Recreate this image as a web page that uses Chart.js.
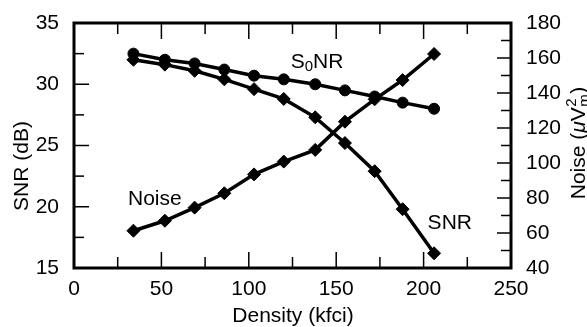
<!DOCTYPE html>
<html>
<head>
<meta charset="utf-8">
<script src="https://cdn.jsdelivr.net/npm/chart.js@4.4.1/dist/chart.umd.min.js"></script>
<style>
  html, body { margin: 0; padding: 0; background: #fff; }
  #wrap { width: 587px; height: 327px; }
</style>
</head>
<body>
<div id="wrap"><canvas id="snrChart" width="587" height="327"></canvas></div>
<script>
// values
var density = [34, 52, 69, 86, 103, 120, 138, 155, 172, 188, 206];
var s0nr = [32.5, 32.0, 31.7, 31.2, 30.7, 30.4, 30.0, 29.5, 29.0, 28.5, 28.0];
var snr = [32.0, 31.6, 31.1, 30.4, 29.6, 28.8, 27.3, 25.2, 22.9, 19.8, 16.2];
var noise = [61.3, 67.0, 74.5, 82.7, 93.5, 100.8, 107.5, 123.6, 136.4, 147.4, 162.3];

var xTicks = [0, 50, 100, 150, 200, 250];
var snrTicks = [15, 20, 25, 30, 35];
var noiseTicks = [40, 60, 80, 100, 120, 140, 160, 180];

var FONT = '"Liberation Sans", Arial, Helvetica, sans-serif';

function pts(xs, ys) {
    return xs.map(function (x, i) { return { x: x, y: ys[i] }; });
}

// inward ticks, box frame, in-plot labels and axis titles
var framePlugin = {
    id: 'frame',
    afterDraw: function (chart) {
        var c = chart.ctx;
        var a = chart.chartArea;
        var sx = chart.scales.x, sy = chart.scales.y, sy1 = chart.scales.y1;
        c.save();
        c.strokeStyle = '#000';
        c.lineWidth = 1.5;
        // x ticks, bottom and top
        for (var v = 25; v < 250; v += 25) {
            var px = sx.getPixelForValue(v);
            var len = (v % 50 === 0) ? 16 : 11;
            c.beginPath();
            c.moveTo(px, a.bottom); c.lineTo(px, a.bottom - len);
            c.moveTo(px, a.top); c.lineTo(px, a.top + len);
            c.stroke();
        }
        // left ticks
        for (var w = 17.5; w < 35; w += 2.5) {
            var py = sy.getPixelForValue(w);
            var l2 = (w % 5 === 0) ? 15 : 10;
            c.beginPath();
            c.moveTo(a.left, py); c.lineTo(a.left + l2, py);
            c.stroke();
        }
        // right ticks
        for (var n = 50; n < 180; n += 10) {
            var py1 = sy1.getPixelForValue(n);
            var l3 = (n % 20 === 0) ? 14 : 10;
            c.beginPath();
            c.moveTo(a.right, py1); c.lineTo(a.right - l3, py1);
            c.stroke();
        }
        // box
        c.lineWidth = 3;
        c.strokeRect(a.left, a.top, a.right - a.left, a.bottom - a.top);

        // series labels
        c.fillStyle = '#000';
        c.textBaseline = 'alphabetic';
        c.textAlign = 'left';
        var big = '21px ' + FONT, small = '15px ' + FONT;
        var lx = sx.getPixelForValue(124), ly = sy.getPixelForValue(31.33);
        c.font = big;
        c.fillText('S', lx, ly);
        lx += c.measureText('S').width;
        c.font = small;
        c.fillText('0', lx, ly + 3);
        lx += c.measureText('0').width;
        c.font = big;
        c.fillText('NR', lx, ly);
        c.fillText('Noise', sx.getPixelForValue(30.9), sy.getPixelForValue(20.14));
        c.fillText('SNR', sx.getPixelForValue(202.3), sy.getPixelForValue(18.16));

        // axis titles
        c.textAlign = 'center';
        c.textBaseline = 'middle';
        c.fillText('Density (kfci)', 293, 316);

        c.save();
        c.translate(22, 166);
        c.rotate(-Math.PI / 2);
        c.fillText('SNR (dB)', 0, 0);
        c.restore();

        // Noise (uV m^2) on the right
        c.save();
        c.translate(577, 143);
        c.rotate(-Math.PI / 2);
        c.textAlign = 'left';
        c.textBaseline = 'alphabetic';
        var p1 = 'Noise (', mu = '\u03BC', p2 = 'V', p3 = ')';
        c.font = big;
        var w1 = c.measureText(p1).width;
        c.font = 'italic ' + big;
        var wmu = c.measureText(mu).width;
        c.font = big;
        var w2 = c.measureText(p2).width, w3 = c.measureText(p3).width;
        c.font = small;
        var ws = Math.max(c.measureText('2').width, c.measureText('m').width);
        var total = w1 + wmu + w2 + ws + 1 + w3;
        var x0 = -total / 2, base = 7.5;
        c.font = big;
        c.fillText(p1, x0, base); x0 += w1;
        c.font = 'italic ' + big;
        c.fillText(mu, x0, base); x0 += wmu;
        c.font = big;
        c.fillText(p2, x0, base); x0 += w2;
        c.font = small;
        c.fillText('2', x0 + 0.5, base - 9);
        c.fillText('m', x0 + 0.5, base + 4);
        x0 += ws + 1;
        c.font = big;
        c.fillText(p3, x0, base);
        c.restore();

        c.restore();
    }
};

var lineStyle = {
    borderColor: '#000',
    backgroundColor: '#000',
    pointBackgroundColor: '#000',
    pointBorderColor: '#000',
    borderWidth: 3.5,
    pointBorderWidth: 1,
    tension: 0,
    fill: false
};

const data = {
    datasets: [
        Object.assign({ label: 'S0NR', data: pts(density, s0nr), yAxisID: 'y',
            pointStyle: 'circle', pointRadius: 5.5 }, lineStyle),
        Object.assign({ label: 'SNR', data: pts(density, snr), yAxisID: 'y',
            pointStyle: 'rectRot', pointRadius: 6.5 }, lineStyle),
        Object.assign({ label: 'Noise', data: pts(density, noise), yAxisID: 'y1',
            pointStyle: 'rectRot', pointRadius: 6.5 }, lineStyle)
    ]
};

function tickFont() {
    return { family: FONT, size: 21 };
}

const config = {
    type: 'line',
    data: data,
    options: {
        responsive: false,
        animation: false,
        events: [],
        layout: { padding: { top: 23, left: 0, right: 0, bottom: 0 } },
        plugins: {
            legend: { display: false },
            tooltip: { enabled: false }
        },
        scales: {
            x: {
                type: 'linear',
                min: 0, max: 250,
                grid: { display: false },
                border: { display: false },
                afterBuildTicks: function (s) { s.ticks = xTicks.map(function (v) { return { value: v }; }); },
                ticks: { color: '#000', font: tickFont(), padding: 1, maxRotation: 0 },
                afterFit: function (s) { s.height = 59; }
            },
            y: {
                position: 'left',
                min: 15, max: 35,
                grid: { display: false },
                border: { display: false },
                afterBuildTicks: function (s) { s.ticks = snrTicks.map(function (v) { return { value: v }; }); },
                ticks: { color: '#000', font: tickFont(), padding: 7 },
                afterFit: function (s) { s.width = 74; }
            },
            y1: {
                position: 'right',
                min: 40, max: 180,
                grid: { display: false },
                border: { display: false },
                afterBuildTicks: function (s) { s.ticks = noiseTicks.map(function (v) { return { value: v }; }); },
                ticks: { color: '#000', font: tickFont(), padding: 7 },
                afterFit: function (s) { s.width = 76; }
            }
        }
    },
    plugins: [framePlugin]
};

var ctx = document.getElementById('snrChart').getContext('2d');
var snrChart = new Chart(ctx, config);
</script>
</body>
</html>
